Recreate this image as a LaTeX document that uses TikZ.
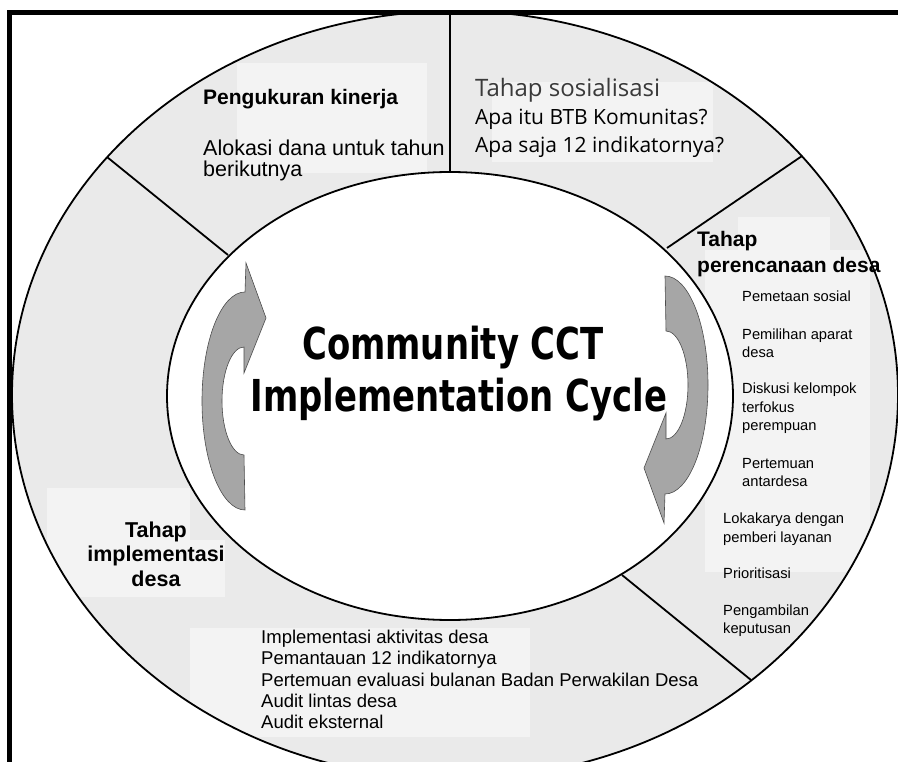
\documentclass[tikz,border=0pt]{standalone}
\usepackage{fontspec}
\setmainfont{Liberation Sans}
\newfontfamily\osans{Open Sans}
\newfontfamily\titlefont[FakeStretch=0.77]{DejaVu Sans}
\definecolor{ringgray}{HTML}{EAEAEA}
\definecolor{boxgray}{HTML}{F3F3F3}
\definecolor{arrowgray}{HTML}{A6A6A6}
\definecolor{softgray}{HTML}{3A3A3A}
\tikzset{
  ringline/.style={draw=black, line width=1.8pt},
  divline/.style={draw=black, line width=1.8pt},
  frameline/.style={draw=black, line width=4.4pt},
  arrowshape/.style={fill=arrowgray, draw=black!70, line width=0.6pt},
  lightbox/.style={fill=boxgray},
  bighead/.style={anchor=base west, inner sep=0pt, font=\bfseries\fontsize{21}{25}\selectfont},
  bigtxt/.style={anchor=base west, inner sep=0pt, font=\fontsize{21.5}{25}\selectfont},
  centhead/.style={anchor=base, inner sep=0pt, font=\bfseries\fontsize{21.5}{25}\selectfont},
  ostxt/.style={anchor=base west, inner sep=0pt, font=\osans\fontsize{21}{25}\selectfont},
  oslight/.style={anchor=base west, inner sep=0pt, text=softgray, font=\osans\fontsize{24}{28}\selectfont},
  smalltxt/.style={anchor=base west, inner sep=0pt, font=\fontsize{14.7}{17}\selectfont},
  listtxt/.style={anchor=base west, inner sep=0pt, font=\fontsize{18.5}{21}\selectfont},
  titletxt/.style={anchor=base, inner sep=0pt, font=\titlefont\bfseries\fontsize{44}{52}\selectfont}
}
\begin{document}
\begin{tikzpicture}[x=1pt,y=-1pt]
\useasboundingbox (0,0) rectangle (898,762);
\clip (0,0) rectangle (898,762);
\fill[white] (0,0) rectangle (898,762);

% ring
\fill[ringgray, even odd rule] (455,395) ellipse [x radius=443, y radius=384]
  (450,396) ellipse [x radius=283, y radius=224];
\begin{scope}
  \clip (455,395) ellipse [x radius=443, y radius=384];
  \fill[lightbox] (237,63) rectangle (427,173);
  \fill[lightbox] (492,82) rectangle (713,162);
  \fill[lightbox] (738,217) rectangle (830,250);
  \fill[lightbox] (705,250) rectangle (870,572);
  \fill[lightbox] (47,488) rectangle (190,597);
  \fill[lightbox] (190,540) rectangle (225,597);
  \fill[lightbox] (190,628) rectangle (530,737);
\end{scope}

% dividers
\coordinate (d1i) at (450,172); \coordinate (d1o) at (450,13);
\coordinate (d2i) at (228,255); \coordinate (d2o) at (107,157);
\coordinate (d3i) at (667,248); \coordinate (d3o) at (802,156);
\coordinate (d4i) at (622,575); \coordinate (d4o) at (751,680);
\draw[divline] (d1i) -- (d1o);
\draw[divline] (d2i) -- (d2o);
\draw[divline] (d3i) -- (d3o);
\draw[divline] (d4i) -- (d4o);

% ellipses
\draw[ringline, fill=white] (450,396) ellipse [x radius=283, y radius=224];
\draw[ringline] (455,395) ellipse [x radius=443, y radius=384];

% arrows
\path[arrowshape] (245,510) arc[start angle=90, end angle=270, x radius=43, y radius=109]
  -- (246,263) -- (266,318) -- (244,373) -- (244,347)
  arc[start angle=270, end angle=90, x radius=22, y radius=54] -- cycle;
\path[arrowshape, rotate around={180:(455,393)}] (245,510) arc[start angle=90, end angle=270, x radius=43, y radius=109]
  -- (246,263) -- (266,318) -- (244,373) -- (244,347)
  arc[start angle=270, end angle=90, x radius=22, y radius=54] -- cycle;

% title
\node[titletxt] (t1) at (453,360) {Community CCT};
\node[titletxt] (t2) at (459,412) {Implementation Cycle};

% top-left segment
\node[bighead] (pk) at (203,105) {Pengukuran kinerja};
\node[bigtxt] (al1) at (203,156) {Alokasi dana untuk tahun};
\node[bigtxt] (al2) at (203,177) {berikutnya};

% top-right segment
\node[oslight] (ts) at (475,97) {Tahap sosialisasi};
\node[ostxt] (q1) at (475,125) {Apa itu BTB Komunitas?};
\node[ostxt] (q2) at (475,153) {Apa saja 12 indikatornya?};

% right segment
\node[bighead] (tp1) at (697,247) {Tahap};
\node[bighead] (tp2) at (697,273) {perencanaan desa};
\node[smalltxt] (r1) at (742,302) {Pemetaan sosial};
\node[smalltxt] (r2a) at (742,340) {Pemilihan aparat};
\node[smalltxt] (r2b) at (742,358) {desa};
\node[smalltxt] (r3a) at (742,394) {Diskusi kelompok};
\node[smalltxt] (r3b) at (742,413) {terfokus};
\node[smalltxt] (r3c) at (742,431) {perempuan};
\node[smalltxt] (r4a) at (742,468) {Pertemuan};
\node[smalltxt] (r4b) at (742,486) {antardesa};
\node[smalltxt] (r5a) at (723,523) {Lokakarya dengan};
\node[smalltxt] (r5b) at (723,542) {pemberi layanan};
\node[smalltxt] (r6) at (723,578) {Prioritisasi};
\node[smalltxt] (r7a) at (723,615) {Pengambilan};
\node[smalltxt] (r7b) at (723,633) {keputusan};

% left segment
\node[centhead] (ti1) at (156,537) {Tahap};
\node[centhead] (ti2) at (156,561) {implementasi};
\node[centhead] (ti3) at (156,586) {desa};

% bottom list
\node[listtxt] (b1) at (261,643) {Implementasi aktivitas desa};
\node[listtxt] (b2) at (261,664) {Pemantauan 12 indikatornya};
\node[listtxt] (b3) at (261,686) {Pertemuan evaluasi bulanan Badan Perwakilan Desa};
\node[listtxt] (b4) at (261,707) {Audit lintas desa};
\node[listtxt] (b5) at (261,728) {Audit eksternal};

% frame
\draw[frameline] (9.5,790) -- (9.5,12.5) -- (920,12.5);
\end{tikzpicture}
\end{document}
